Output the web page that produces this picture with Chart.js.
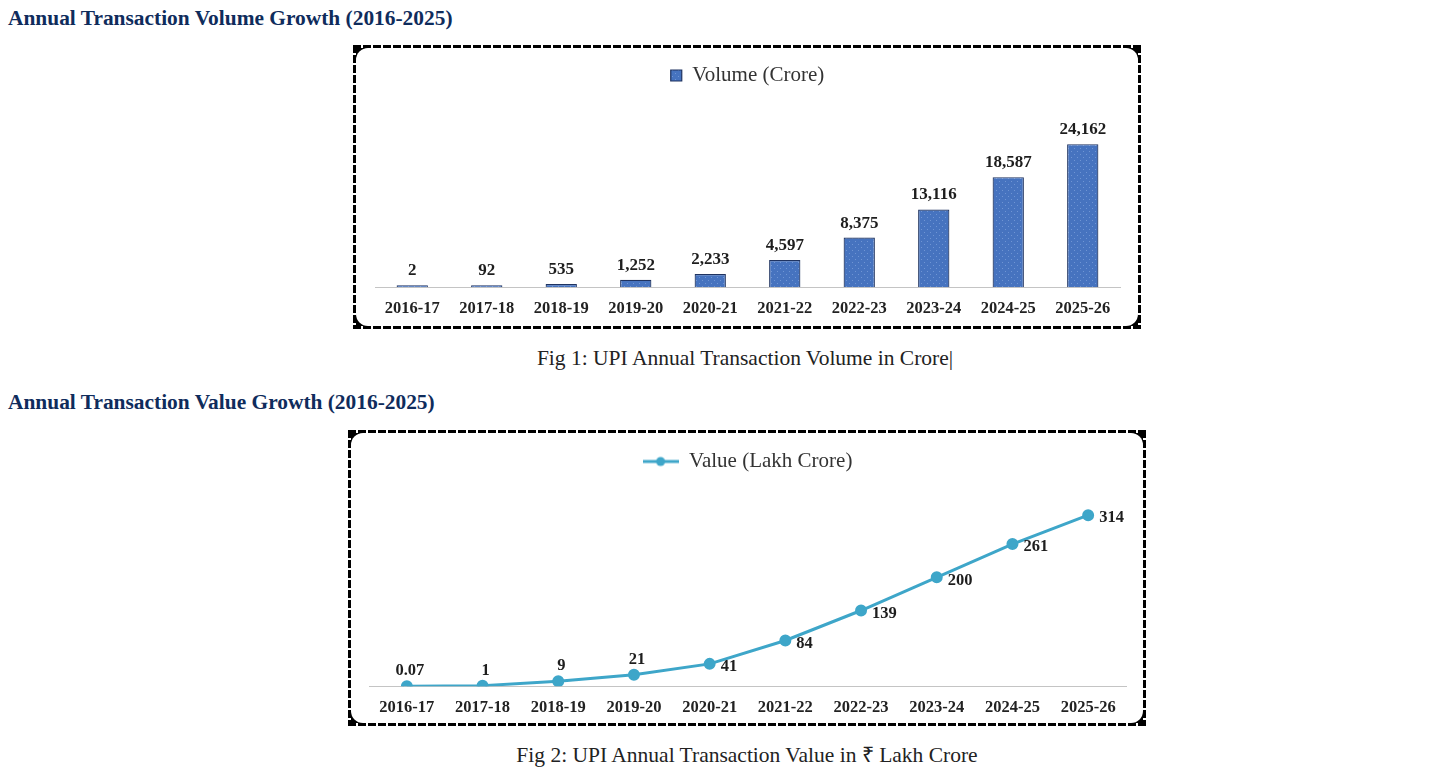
<!DOCTYPE html>
<html>
<head>
<meta charset="utf-8">
<script src="https://cdn.jsdelivr.net/npm/chart.js@4.4.1/dist/chart.umd.min.js"></script>
<style>
html,body{margin:0;padding:0;background:#fff;}
body{width:1456px;height:773px;position:relative;overflow:hidden;font-family:'Liberation Serif','Times New Roman',serif;}
.h{position:absolute;left:8px;font-weight:bold;font-size:21.4px;line-height:22px;color:#0f2c5c;white-space:nowrap;}
.cap{position:absolute;width:800px;text-align:center;font-size:21.5px;line-height:24px;color:#222;white-space:nowrap;}
.box{position:absolute;box-sizing:border-box;padding:3px;
 background:
 repeating-linear-gradient(90deg,#000 0 8px,#fff 8px 10px) left top/100% 3px no-repeat,
 repeating-linear-gradient(90deg,#000 0 8px,#fff 8px 10px) left bottom/100% 3px no-repeat,
 repeating-linear-gradient(180deg,#000 0 8px,#fff 8px 10px) left top/3px 100% no-repeat,
 repeating-linear-gradient(180deg,#000 0 8px,#fff 8px 10px) right top/3px 100% no-repeat,
 #fff;}
.blk{width:100%;height:100%;background:#000;}
.inner{width:100%;height:100%;background:#fff;border-radius:12px;position:relative;overflow:hidden;}
.inner canvas{display:block;}
</style>
</head>
<body>
<div class="h" style="top:7px;">Annual Transaction Volume Growth (2016-2025)</div>
<div class="box" style="left:353px;top:45px;width:788px;height:284px;"><div class="blk"><div class="inner"><canvas id="c1"></canvas></div></div></div>
<div class="cap" style="left:345px;top:346px;">Fig 1: UPI Annual Transaction Volume in Crore|</div>

<div class="h" style="top:391px;">Annual Transaction Value Growth (2016-2025)</div>
<div class="box" style="left:348px;top:430px;width:798px;height:296px;"><div class="blk"><div class="inner"><canvas id="c2"></canvas></div></div></div>
<div class="cap" style="left:347px;top:743px;">Fig 2: UPI Annual Transaction Value in ₹ Lakh Crore</div>

<script>
// ---- Data ----
const years = ['2016-17','2017-18','2018-19','2019-20','2020-21','2021-22','2022-23','2023-24','2024-25','2025-26'];
const volumeCrore = [2, 92, 535, 1252, 2233, 4597, 8375, 13116, 18587, 24162];
const valueLakhCrore = [0.07, 1, 9, 21, 41, 84, 139, 200, 261, 314];
const volumeLabel = 'Volume (Crore)';
const valueLabel = 'Value (Lakh Crore)';

// ---- Styles ----
const SERIF = "'Liberation Serif','Times New Roman',serif";
const BAR_BLUE = '#4673bf';
const LINE_BLUE = '#3ea6c9';

function barPattern(){
  const c = document.createElement('canvas'); c.width = 6; c.height = 6;
  const g = c.getContext('2d');
  g.fillStyle = BAR_BLUE; g.fillRect(0,0,6,6);
  g.fillStyle = '#6f95d4'; g.fillRect(1,1,1,1); g.fillRect(4,4,1,1);
  return g.createPattern(c,'repeat');
}
function lineLegendIcon(){
  const c = document.createElement('canvas'); c.width = 36; c.height = 12;
  const g = c.getContext('2d');
  g.strokeStyle = LINE_BLUE; g.lineWidth = 3;
  g.beginPath(); g.moveTo(0,6); g.lineTo(36,6); g.stroke();
  g.fillStyle = LINE_BLUE; g.beginPath(); g.arc(18,6,4.5,0,Math.PI*2); g.fill();
  return c;
}

const valueLabels = {
  id: 'valueLabels',
  afterDatasetsDraw(chart, args, opts){
    const ctx = chart.ctx;
    const ds = chart.data.datasets[0];
    ctx.save();
    ctx.font = 'bold ' + opts.size + 'px ' + SERIF;
    ctx.fillStyle = '#1e1e1e';
    chart.getDatasetMeta(0).data.forEach((el, i) => {
      const v = ds.data[i];
      if (opts.mode === 'bar') {
        ctx.textAlign = 'center'; ctx.textBaseline = 'bottom';
        ctx.fillText(v.toLocaleString('en-US'), el.x, el.y - 6);
      } else {
        const t = String(v);
        if (i < opts.aboveCount) {
          ctx.textAlign = 'center'; ctx.textBaseline = 'bottom';
          ctx.fillText(t, el.x + 3, el.y - 7);
        } else {
          ctx.textAlign = 'left'; ctx.textBaseline = 'middle';
          ctx.fillText(t, el.x + 11, el.y + 3);
        }
      }
    });
    ctx.restore();
  }
};

Chart.defaults.animation = false;
Chart.defaults.font.family = SERIF;

new Chart(document.getElementById('c1'), {
  type: 'bar',
  data: {
    labels: years,
    datasets: [{
      label: volumeLabel,
      data: volumeCrore,
      backgroundColor: barPattern(),
      borderColor: '#1f3360',
      borderWidth: 1.2,
      minBarLength: 2,
      barPercentage: 0.42,
      categoryPercentage: 1
    }]
  },
  options: {
    responsive: true,
    maintainAspectRatio: false,
    layout: { padding: { top: 7, left: 19, right: 18, bottom: -5 } },
    plugins: {
      legend: {
        position: 'top',
        labels: { boxWidth: 11, boxHeight: 11, color: '#333', padding: 10, font: { family: SERIF, size: 21 } }
      },
      tooltip: { enabled: false },
      valueLabels: { mode: 'bar', size: 17 }
    },
    scales: {
      x: {
        grid: { display: false, drawTicks: false },
        border: { display: true, color: '#c4c4c4', dash: [2, 3], width: 1 },
        ticks: { color: '#222', padding: 12, maxRotation: 0, autoSkip: false, font: { family: SERIF, size: 16.5, weight: 'bold' } }
      },
      y: { display: false, min: 0, max: 32300 }
    }
  },
  plugins: [valueLabels]
});

new Chart(document.getElementById('c2'), {
  type: 'line',
  data: {
    labels: years,
    datasets: [{
      label: valueLabel,
      data: valueLakhCrore,
      borderColor: LINE_BLUE,
      backgroundColor: LINE_BLUE,
      borderWidth: 3,
      pointRadius: 4.5,
      pointBackgroundColor: LINE_BLUE,
      pointBorderColor: LINE_BLUE,
      tension: 0,
      fill: false
    }]
  },
  options: {
    responsive: true,
    maintainAspectRatio: false,
    layout: { padding: { top: 8, left: 18, right: 17, bottom: -7 } },
    plugins: {
      legend: {
        position: 'top',
        labels: {
          usePointStyle: true,
          pointStyleWidth: 36,
          color: '#333',
          padding: 10,
          font: { family: SERIF, size: 21 },
          generateLabels(chart){
            const items = Chart.defaults.plugins.legend.labels.generateLabels(chart);
            const icon = lineLegendIcon();
            items.forEach(it => { it.pointStyle = icon; });
            return items;
          }
        }
      },
      tooltip: { enabled: false },
      valueLabels: { mode: 'line', aboveCount: 4, size: 16.5 }
    },
    scales: {
      x: {
        offset: true,
        grid: { display: false, drawTicks: false },
        border: { display: true, color: '#c4c4c4', dash: [2, 3], width: 1 },
        ticks: { color: '#222', padding: 12, maxRotation: 0, autoSkip: false, font: { family: SERIF, size: 16.5, weight: 'bold' } }
      },
      y: { display: false, min: 0, max: 375 }
    }
  },
  plugins: [valueLabels]
});
</script>
</body>
</html>
